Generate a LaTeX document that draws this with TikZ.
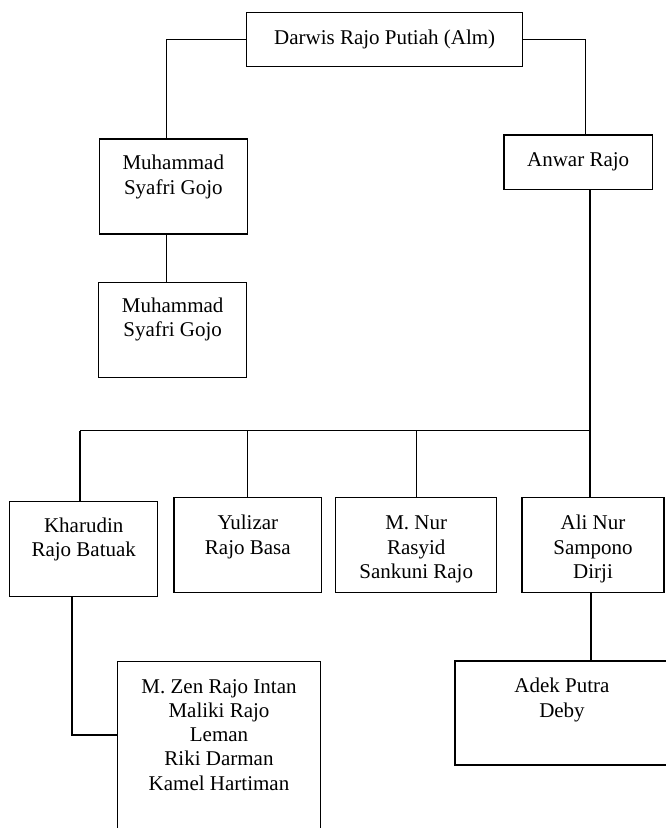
\documentclass[tikz,border=0pt]{standalone}
\usepackage{fontspec}
\setmainfont{Liberation Serif}
\tikzset{
  famBox/.style={draw=black, line width=1.2pt, inner sep=0pt, outer sep=0pt, anchor=north west, font=\fontsize{21}{24.3}\selectfont},
  link/.style={draw=black, line width=1.2pt}
}
\newcommand{\famtop}[4]{\parbox[c][#2][t]{#1}{\centering\rule{0pt}{#3}#4\par}}
\newcommand{\fammid}[3]{\parbox[c][#2][c]{#1}{\centering #3\par}}
\begin{document}
\begin{tikzpicture}[x=1pt,y=-1pt]
\useasboundingbox (0,0) rectangle (666,828);
\clip (0,0) rectangle (666,828);
\node[famBox] (top) at (246.7,12.7) {\fammid{276pt}{53.6pt}{Darwis Rajo Putiah (Alm)}};
\node[famBox] (m1) at (99.3,139) {\famtop{148pt}{95pt}{30.7pt}{Muhammad\\Syafri Gojo}};
\node[famBox] (m2) at (98.7,282.3) {\famtop{148pt}{95.4pt}{29.7pt}{Muhammad\\Syafri Gojo}};
\node[famBox] (anwar) at (504,135) {\fammid{148.3pt}{54.3pt}{Anwar Rajo}};
\node[famBox] (kh) at (9.7,501.7) {\famtop{148pt}{95pt}{30.3pt}{Kharudin\\Rajo Batuak}};
\node[famBox] (yu) at (174,497.7) {\famtop{147.7pt}{94.6pt}{32pt}{Yulizar\\Rajo Basa}};
\node[famBox] (mnur) at (335.7,497.7) {\famtop{161pt}{95pt}{32pt}{M. Nur\\Rasyid\\Sankuni Rajo}};
\node[famBox] (ali) at (522,497.7) {\famtop{142pt}{95pt}{32pt}{Ali Nur\\Sampono\\Dirji}};
\node[famBox] (mzen) at (117.3,661.3) {\famtop{203.4pt}{200pt}{31.7pt}{M. Zen Rajo Intan\\Maliki Rajo\\Leman\\Riki Darman\\Kamel Hartiman}};
\node[famBox] (adek) at (455,661) {\famtop{214pt}{104pt}{31.7pt}{Adek Putra\\Deby}};
\coordinate (busL) at (80,430.7);
\coordinate (busR) at (590,430.7);
\draw[link] (top.west) -| ([xshift=-6.6pt]m1.north);
\draw[link] (top.east) -| ([xshift=7.5pt]anwar.north);
\draw[link] ([xshift=-6.6pt]m1.south) -- ([xshift=-6.6pt]m1.south |- m2.north);
\draw[link] ([xshift=11.85pt]anwar.south) -- ([xshift=11.85pt]anwar.south |- ali.north);
\draw[link] (busL) -- (busR);
\draw[link] (busL) -- (busL |- kh.north);
\draw[link] (yu.north |- busL) -- (yu.north);
\draw[link] (mnur.north |- busL) -- (mnur.north);
\draw[link] ([xshift=-11.7pt]kh.south) |- ([yshift=-73.7pt]mzen.north west);
\draw[link] ([xshift=-2pt]ali.south) -- ([xshift=-2pt]ali.south |- adek.north);
\end{tikzpicture}
\end{document}
